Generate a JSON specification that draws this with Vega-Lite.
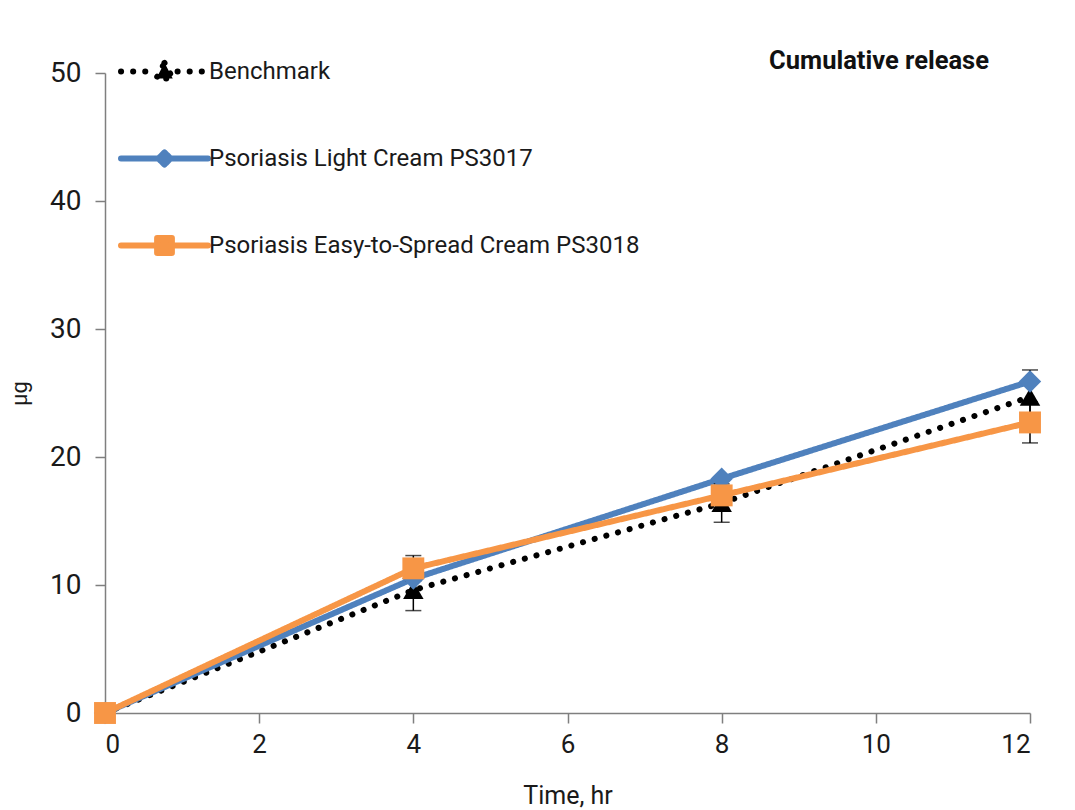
{
  "$schema": "https://vega.github.io/schema/vega-lite/v6.json",
  "autosize": "none",
  "width": 925,
  "height": 640,
  "padding": {"left": 105, "top": 73, "right": 45, "bottom": 97},
  "background": "white",
  "config": {
    "font": "Roboto, sans-serif",
    "view": {"stroke": null},
    "axis": {"grid": false, "domainColor": "#7f7f7f", "domainWidth": 1.5, "tickColor": "#7f7f7f", "tickWidth": 1.5, "labelColor": "#1a1a1a", "titleColor": "#1a1a1a", "titleFontWeight": "normal"}
  },
  "title": {"text": "Cumulative release", "anchor": "end", "fontSize": 25.5, "fontWeight": "bold", "dx": -53, "dy": 35, "offset": -14, "color": "#111111"},
  "datasets": {
    "series": [
      {"series": "Benchmark", "time": 0, "value": 0},
      {"series": "Benchmark", "time": 4, "value": 9.6},
      {"series": "Benchmark", "time": 8, "value": 16.4},
      {"series": "Benchmark", "time": 12, "value": 24.7},
      {"series": "Psoriasis Light Cream PS3017", "time": 0, "value": 0},
      {"series": "Psoriasis Light Cream PS3017", "time": 4, "value": 10.5},
      {"series": "Psoriasis Light Cream PS3017", "time": 8, "value": 18.3},
      {"series": "Psoriasis Light Cream PS3017", "time": 12, "value": 25.9},
      {"series": "Psoriasis Easy-to-Spread Cream PS3018", "time": 0, "value": 0},
      {"series": "Psoriasis Easy-to-Spread Cream PS3018", "time": 4, "value": 11.3},
      {"series": "Psoriasis Easy-to-Spread Cream PS3018", "time": 8, "value": 17.0},
      {"series": "Psoriasis Easy-to-Spread Cream PS3018", "time": 12, "value": 22.7}
    ],
    "errors": [
      {"series": "Benchmark", "time": 4, "lo": 8.0, "hi": 11.2},
      {"series": "Benchmark", "time": 8, "lo": 14.9, "hi": 17.9},
      {"series": "Benchmark", "time": 12, "lo": 22.6, "hi": 26.8},
      {"series": "Psoriasis Easy-to-Spread Cream PS3018", "time": 4, "lo": 10.3, "hi": 12.3},
      {"series": "Psoriasis Easy-to-Spread Cream PS3018", "time": 12, "lo": 21.1, "hi": 24.3}
    ]
  },
  "layer": [
    {
      "data": {"name": "series"},
      "mark": {"type": "line", "strokeWidth": 6, "strokeCap": "round", "clip": false},
      "encoding": {
        "x": {"field": "time", "type": "quantitative", "title": "Time, hr", "scale": {"domain": [0, 12], "nice": false},
          "axis": {"values": [0, 2, 4, 6, 8, 10, 12], "format": "d", "labelFontSize": 26, "tickSize": 10, "labelPadding": 8, "titleFontSize": 25, "titlePadding": 26}},
        "y": {"field": "value", "type": "quantitative", "title": "µg", "scale": {"domain": [0, 50], "nice": false},
          "axis": {"values": [0, 10, 20, 30, 40, 50], "format": "d", "labelFontSize": 28, "tickSize": 10, "labelPadding": 14, "titleFontSize": 22, "titlePadding": 18}},
        "color": {"field": "series", "type": "nominal",
          "scale": {"domain": ["Benchmark", "Psoriasis Light Cream PS3017", "Psoriasis Easy-to-Spread Cream PS3018"], "range": ["#000000", "#4F81BD", "#F79646"]},
          "legend": {
            "title": null, "orient": "none", "legendX": 13, "legendY": -48,
            "labelFontSize": 24, "labelColor": "#1a1a1a", "labelOffset": -2, "labelLimit": 0, "rowPadding": 28,
            "symbolSize": 7569, "symbolStrokeWidth": 6,
            "symbolType": "M-1,0H1M-0.17,-0.17H0.17V0.17H-0.17Z",
            "encode": {"symbols": {"update": {
              "shape": {"signal": "datum.value === 'Benchmark' ? 'M-1,0H-0.3M0.3,0H1M0,-0.2L0.19,0.16L-0.19,0.16Z' : datum.value === 'Psoriasis Light Cream PS3017' ? 'M-1,0H1M0,-0.14L0.14,0L0,0.14L-0.14,0Z' : 'M-1,0H1M-0.17,-0.17H0.17V0.17H-0.17Z'"},
              "fill": {"signal": "scale('color', datum.value)"},
              "stroke": {"signal": "scale('color', datum.value)"},
              "strokeWidth": {"value": 6},
              "strokeCap": {"value": "round"},
              "strokeJoin": {"value": "round"},
              "strokeDash": {"signal": "datum.value === 'Benchmark' ? [0.1, 11] : [1, 0]"},
              "opacity": {"value": 1},
              "fillOpacity": {"value": 1},
              "size": {"value": 7569}
            }}}
          }},
        "strokeDash": {"field": "series", "type": "nominal",
          "scale": {"domain": ["Benchmark", "Psoriasis Light Cream PS3017", "Psoriasis Easy-to-Spread Cream PS3018"], "range": [[0.1, 12], [1, 0], [1, 0]]},
          "legend": null}
      }
    },
    {
      "data": {"name": "errors"},
      "mark": {"type": "errorbar", "color": "#000000", "thickness": 1.5, "ticks": {"size": 16, "thickness": 1.5, "color": "#000000"}},
      "encoding": {
        "x": {"field": "time", "type": "quantitative", "title": "Time, hr"},
        "y": {"field": "lo", "type": "quantitative", "title": "µg"},
        "y2": {"field": "hi"}
      }
    },
    {
      "data": {"name": "series"},
      "transform": [{"filter": "datum.series === 'Benchmark'"}],
      "mark": {"type": "point", "shape": "triangle-up", "size": 420, "filled": true, "opacity": 1, "color": "#000000", "clip": false},
      "encoding": {
        "x": {"field": "time", "type": "quantitative", "title": "Time, hr"},
        "y": {"field": "value", "type": "quantitative", "title": "µg"}
      }
    },
    {
      "data": {"name": "series"},
      "transform": [{"filter": "datum.series === 'Psoriasis Light Cream PS3017'"}],
      "mark": {"type": "point", "shape": "diamond", "size": 500, "filled": true, "opacity": 1, "color": "#4F81BD", "clip": false},
      "encoding": {
        "x": {"field": "time", "type": "quantitative", "title": "Time, hr"},
        "y": {"field": "value", "type": "quantitative", "title": "µg"}
      }
    },
    {
      "data": {"name": "series"},
      "transform": [{"filter": "datum.series === 'Psoriasis Easy-to-Spread Cream PS3018'"}],
      "mark": {"type": "point", "shape": "square", "size": 480, "filled": true, "opacity": 1, "color": "#F79646", "clip": false},
      "encoding": {
        "x": {"field": "time", "type": "quantitative", "title": "Time, hr"},
        "y": {"field": "value", "type": "quantitative", "title": "µg"}
      }
    }
  ]
}
